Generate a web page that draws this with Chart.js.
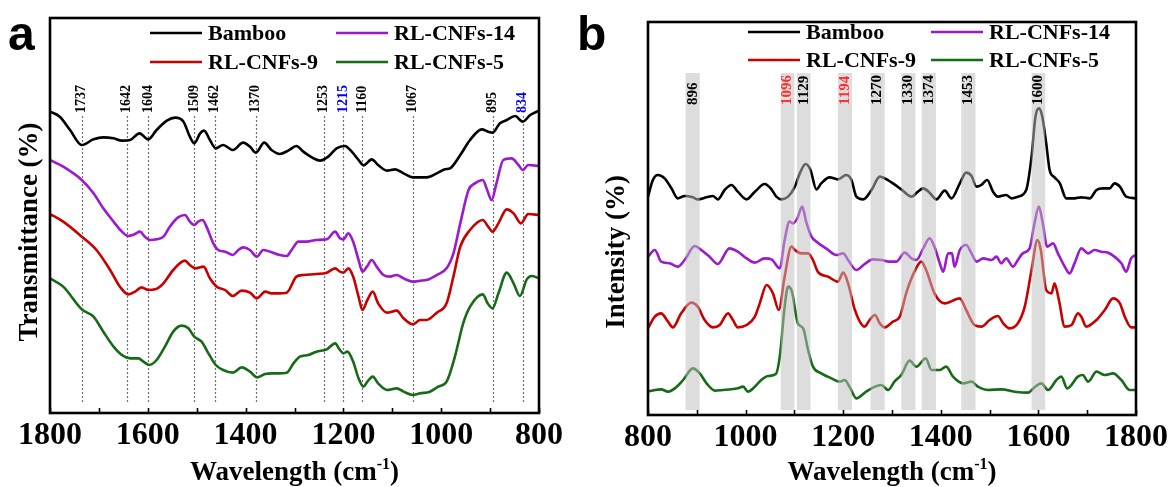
<!DOCTYPE html>
<html lang="en">
<head>
<meta charset="UTF-8">
<title>FTIR / Raman spectra</title>
<script src="https://cdn.jsdelivr.net/npm/chart.js"></script>
<style>
  body { margin: 0; background: #fff; }
  .wrap { position: relative; width: 1174px; height: 487px; }
  #chartA { position: absolute; left: 0; top: 0; }
  #chartB { position: absolute; left: 570px; top: 0; }
</style>
</head>
<body>
<div class="wrap">
  <canvas id="chartA" width="570" height="487"></canvas>
  <canvas id="chartB" width="604" height="487"></canvas>
</div>
<script>
// ---- series names / colours
const seriesNames = ['Bamboo', 'RL-CNFs-14', 'RL-CNFs-9', 'RL-CNFs-5'];
const seriesColors = ['#000000', '#9b19cf', '#c80000', '#176a17'];

// ---- panel a : FTIR (wavenumber, arbitrary transmittance)
const ftirBambooX = [1800,1780,1759,1735,1711,1691,1670,1653,1636,1617,1599,1582,1561,1544,1527,1514,1505,1493,1485,1473,1461,1446,1426,1405,1391,1379,1362,1347,1330,1313,1296,1282,1261,1248,1231,1214,1197,1183,1169,1159,1142,1129,1111,1094,1077,1058,1030,1009,992,982,961,941,917,904,895,880,866,849,833,818,800];
const ftirBambooY = [93.5,92.0,88.0,83.5,85.2,85.8,85.5,84.8,85.0,87.0,85.2,88.0,90.8,91.7,90.5,86.0,84.0,87.0,87.8,85.0,82.5,83.5,82.0,84.2,83.0,81.2,84.2,82.0,80.8,81.8,83.2,81.5,79.5,78.8,80.0,82.5,83.2,81.5,79.0,77.4,79.2,77.5,75.8,76.2,75.0,73.8,73.8,75.0,76.2,76.5,80.5,85.0,88.2,87.5,87.2,90.0,91.0,92.2,90.5,92.5,93.8];
const ftirCnf14X = [1800,1773,1735,1711,1691,1670,1653,1640,1626,1616,1606,1595,1582,1568,1555,1538,1524,1514,1505,1497,1488,1480,1466,1456,1442,1426,1415,1405,1391,1377,1364,1350,1330,1316,1306,1292,1275,1255,1234,1217,1207,1200,1190,1180,1169,1161,1152,1142,1132,1118,1105,1091,1077,1058,1043,1030,1009,989,975,961,944,931,915,906,897,887,873,856,842,833,822,800];
const ftirCnf14Y = [79.0,77.0,73.0,69.0,64.5,60.5,57.5,56.2,56.8,57.5,56.0,55.0,55.2,56.0,59.0,61.8,62.5,60.5,59.5,60.5,61.0,59.0,54.0,52.0,51.5,50.5,52.0,52.8,52.0,50.0,52.0,51.5,50.5,50.2,52.0,54.5,54.5,55.0,55.2,57.5,55.5,55.2,57.0,54.5,49.0,45.5,47.0,49.0,47.0,44.5,44.0,44.5,43.5,42.5,42.8,43.0,44.5,46.5,51.0,60.0,70.0,72.0,73.0,70.0,67.0,72.0,79.0,79.5,77.5,76.0,77.5,77.2];
const ftirCnf9X = [1800,1773,1735,1705,1677,1657,1640,1626,1613,1599,1585,1568,1548,1524,1514,1503,1486,1473,1459,1442,1426,1408,1391,1377,1360,1347,1333,1316,1296,1282,1255,1234,1217,1207,1200,1190,1180,1169,1161,1151,1140,1129,1111,1091,1077,1058,1043,1030,1009,989,975,961,941,915,904,895,883,866,852,837,822,800];
const ftirCnf9Y = [62.8,60.5,56.0,52.0,46.0,41.0,38.7,39.5,40.8,40.0,40.2,42.0,46.0,48.8,47.5,46.5,47.0,43.5,41.0,40.0,38.2,39.8,39.2,37.5,39.5,39.0,39.0,39.2,44.0,44.5,44.8,45.2,46.5,45.5,45.2,46.5,44.0,38.0,34.0,37.0,39.5,36.0,33.2,33.8,31.5,29.7,31.0,31.0,33.2,36.0,44.0,53.0,58.0,61.0,59.0,57.5,60.0,64.2,63.0,60.0,62.8,62.5];
const ftirCnf5X = [1800,1773,1735,1711,1691,1670,1653,1636,1619,1609,1597,1582,1565,1548,1531,1517,1505,1490,1476,1461,1446,1426,1408,1391,1377,1360,1347,1333,1316,1302,1289,1272,1255,1234,1217,1207,1200,1192,1180,1169,1159,1151,1140,1129,1111,1091,1077,1058,1043,1023,1006,989,972,955,941,915,905,895,883,866,852,839,825,815,800];
const ftirCnf5Y = [43.5,41.0,34.2,32.0,27.5,23.0,20.5,19.5,19.5,18.5,17.5,19.0,23.0,27.5,29.3,28.5,26.0,24.5,21.0,17.5,16.0,15.2,16.8,15.5,13.8,14.8,15.0,15.0,15.2,18.0,20.0,20.5,21.5,22.2,24.0,22.0,21.0,21.5,18.5,13.5,11.0,12.5,14.0,12.0,10.0,10.5,9.5,8.5,9.0,9.5,11.0,12.5,20.0,30.0,35.0,38.7,36.0,34.5,39.0,45.2,42.0,38.2,43.2,44.2,43.5];
// dotted marker lines (where they sit on the axis) and their labels
const ftirMarkPos = [1735,1643,1599,1505,1463,1379,1240,1200,1161,1058,895,833];
const ftirMarkText = ['1737','1642','1604','1509','1462','1370','1253','1215','1160','1067','895','834'];
const ftirMarkColor = ['#000','#000','#000','#000','#000','#000','#000','#0000ee','#000','#000','#000','#0000ee'];

// ---- panel b : Raman (wavenumber, arbitrary intensity)
const ramBambooX = [800,810,820,834,848,861,875,892,902,920,933,943,957,971,984,1002,1019,1039,1053,1063,1073,1087,1101,1111,1123,1133,1145,1155,1172,1189,1206,1217,1227,1241,1258,1275,1285,1302,1319,1340,1353,1364,1377,1391,1408,1422,1439,1452,1463,1473,1483,1495,1507,1517,1534,1545,1558,1575,1586,1594,1601,1608,1616,1623,1633,1644,1657,1674,1688,1705,1719,1732,1746,1756,1767,1780,1800];
const ramBambooY = [68.0,73.0,74.5,73.5,70.5,67.5,68.2,67.8,67.2,67.8,68.2,67.2,70.0,71.5,69.5,67.2,69.5,71.8,70.2,68.0,67.2,68.0,71.0,75.0,77.8,76.0,70.2,72.0,73.8,73.2,74.5,73.0,68.0,67.2,70.0,74.0,73.5,72.0,70.2,68.0,69.5,70.5,69.2,67.2,69.8,67.5,72.0,75.2,74.2,71.0,71.5,73.0,69.5,68.0,68.5,67.5,68.0,70.0,80.0,92.0,94.5,92.0,84.0,76.0,73.8,72.0,67.5,67.5,67.8,67.5,70.0,70.5,70.5,72.0,71.0,68.0,67.5];
const ramCnf14X = [800,814,827,844,861,875,896,909,926,943,967,984,1002,1019,1039,1053,1070,1080,1090,1097,1106,1116,1124,1135,1148,1165,1186,1200,1210,1227,1244,1261,1278,1295,1309,1326,1340,1350,1364,1377,1387,1398,1405,1415,1423,1428,1439,1452,1463,1473,1487,1504,1514,1524,1534,1548,1558,1568,1582,1592,1601,1609,1618,1630,1640,1654,1664,1674,1688,1702,1715,1729,1743,1756,1770,1780,1790,1800];
const ramCnf14Y = [50.0,52.0,48.5,48.0,47.0,49.0,53.2,52.0,50.0,47.8,52.5,51.5,49.5,48.2,49.5,49.2,46.5,55.0,60.5,60.0,61.5,65.0,60.5,56.0,54.2,52.5,50.5,51.0,49.0,46.0,47.8,49.2,49.0,48.5,48.5,51.2,49.5,49.0,52.5,55.5,53.0,48.0,45.5,51.0,51.0,47.0,52.0,53.5,51.0,48.5,49.5,49.0,50.0,48.0,49.5,47.0,49.0,51.0,52.5,60.0,65.0,60.0,53.0,54.0,51.0,47.0,45.0,48.0,52.5,51.0,52.0,51.5,51.2,50.0,48.0,45.5,49.5,50.5];
const ramCnf9X = [800,814,827,841,851,868,889,902,916,933,947,964,974,984,1002,1019,1029,1043,1056,1068,1080,1094,1101,1114,1128,1138,1148,1169,1189,1200,1210,1224,1244,1254,1265,1275,1285,1302,1316,1329,1346,1360,1370,1387,1408,1439,1452,1469,1483,1500,1517,1528,1541,1558,1572,1586,1598,1605,1616,1627,1633,1642,1654,1668,1681,1688,1698,1719,1736,1753,1767,1777,1790,1800];
const ramCnf9Y = [28.5,32.0,33.0,30.5,28.8,33.0,36.2,35.0,31.0,28.8,29.5,33.0,31.0,28.8,29.5,32.0,36.0,41.5,39.0,34.0,44.0,53.0,52.0,51.0,51.0,49.0,45.5,44.0,42.5,45.2,42.0,34.0,29.0,31.0,32.5,30.0,28.8,30.5,32.0,39.0,45.5,48.5,46.0,39.0,36.0,37.5,34.0,29.5,29.0,31.0,32.2,30.0,28.5,30.0,35.0,46.0,55.0,52.0,40.0,39.0,42.0,37.0,29.0,29.5,33.0,32.0,29.0,31.0,34.0,37.5,36.0,32.0,28.8,28.8];
const ramCnf5X = [800,814,827,841,855,872,892,906,920,937,954,971,984,995,1005,1019,1032,1046,1062,1070,1080,1087,1095,1107,1118,1128,1138,1155,1176,1193,1203,1213,1227,1247,1265,1278,1292,1305,1319,1336,1350,1369,1381,1398,1411,1425,1446,1463,1476,1497,1524,1551,1579,1592,1606,1620,1637,1647,1659,1681,1691,1702,1719,1736,1753,1770,1787,1800];
const ramCnf5Y = [9.5,10.0,10.2,9.5,10.5,13.0,16.5,15.0,12.0,9.8,10.0,10.2,10.5,11.0,9.5,11.0,13.0,14.2,14.8,20.0,35.0,41.0,39.5,30.0,28.5,22.0,17.0,15.0,13.5,12.5,13.0,11.0,7.5,9.5,11.0,11.5,10.0,12.5,14.5,18.8,17.0,19.5,16.0,16.0,17.0,14.0,12.0,12.5,11.0,10.0,10.2,9.5,9.2,10.8,12.0,10.0,13.0,14.0,10.5,14.0,14.5,12.5,15.5,14.5,15.0,13.0,10.0,10.0];
// shaded bands
const ramBandLo = [877,1072,1105,1189,1256,1319,1361,1442,1586];
const ramBandHi = [906,1100,1133,1218,1285,1348,1390,1471,1614];
const ramBandText = ['896','1096','1129','1194','1270','1330','1374','1453','1600'];
const ramBandColor = ['#000','#ff3030','#000','#ff3030','#000','#000','#000','#000','#000'];

const tickLabels = [800, 1000, 1200, 1400, 1600, 1800];

const serif = '"Liberation Serif", "Times New Roman", serif';

function pairs(xs, ys) {
    return xs.map((x, i) => ({ x: x, y: ys[i] }));
}

function makeDatasets(list) {
    return list.map((s, i) => ({
        label: seriesNames[i],
        data: pairs(s[0], s[1]),
        borderColor: seriesColors[i],
        borderWidth: 2.6,
        pointRadius: 0,
        cubicInterpolationMode: 'monotone',
        fill: false
    }));
}

// frame + inward ticks every 100
function drawFrame(ctx, a, x) {
    ctx.save();
    ctx.strokeStyle = '#000';
    ctx.lineWidth = 1.6;
    for (let v = 800; v <= 1800; v += 100) {
        const px = Math.round(x.getPixelForValue(v)) + 0.5;
        ctx.beginPath();
        ctx.moveTo(px, a.bottom);
        ctx.lineTo(px, a.bottom - 5);
        ctx.stroke();
    }
    ctx.lineWidth = 2.6;
    ctx.strokeRect(a.left, a.top, a.right - a.left, a.bottom - a.top);
    ctx.restore();
}

function drawLegend(ctx, cols, rows) {
    ctx.save();
    ctx.font = 'bold 22px ' + serif;
    ctx.textBaseline = 'middle';
    ctx.textAlign = 'left';
    const order = [[0, 1], [2, 3]];
    order.forEach((row, r) => {
        row.forEach((si, c) => {
            const lx = cols[c], ly = rows[r];
            ctx.strokeStyle = seriesColors[si];
            ctx.lineWidth = 2.6;
            ctx.beginPath();
            ctx.moveTo(lx, ly);
            ctx.lineTo(lx + 52, ly);
            ctx.stroke();
            ctx.fillStyle = '#000';
            ctx.fillText(seriesNames[si], lx + 58, ly + 1);
        });
    });
    ctx.restore();
}

function drawXTitle(ctx, cx, baseY) {
    ctx.save();
    ctx.fillStyle = '#000';
    ctx.textBaseline = 'alphabetic';
    ctx.textAlign = 'left';
    const big = 'bold 27px ' + serif, small = 'bold 16px ' + serif;
    const t1 = 'Wavelength (cm', t2 = '-1', t3 = ')';
    ctx.font = big; const w1 = ctx.measureText(t1).width, w3 = ctx.measureText(t3).width;
    ctx.font = small; const w2 = ctx.measureText(t2).width;
    let sx = cx - (w1 + w2 + w3) / 2;
    ctx.font = big; ctx.fillText(t1, sx, baseY);
    ctx.font = small; ctx.fillText(t2, sx + w1, baseY - 11);
    ctx.font = big; ctx.fillText(t3, sx + w1 + w2, baseY);
    ctx.restore();
}

function drawYTitle(ctx, text, cx, cy) {
    ctx.save();
    ctx.translate(cx, cy);
    ctx.rotate(-Math.PI / 2);
    ctx.font = 'bold 27px ' + serif;
    ctx.fillStyle = '#000';
    ctx.textAlign = 'center';
    ctx.textBaseline = 'middle';
    ctx.fillText(text, 0, 0);
    ctx.restore();
}

function drawLetter(ctx, ch, lx) {
    ctx.save();
    ctx.font = 'bold 48px "Liberation Sans", Arial, sans-serif';
    ctx.fillStyle = '#000';
    ctx.textBaseline = 'alphabetic';
    ctx.fillText(ch, lx, 50);
    ctx.restore();
}

function rotatedLabel(ctx, text, color, px, bottomY, size) {
    ctx.save();
    ctx.translate(px, bottomY);
    ctx.rotate(-Math.PI / 2);
    ctx.font = 'bold ' + size + 'px ' + serif;
    ctx.fillStyle = color;
    ctx.textAlign = 'left';
    ctx.textBaseline = 'middle';
    ctx.fillText(text, 0, 0);
    ctx.restore();
}

const decorA = {
    id: 'decorA',
    beforeDatasetsDraw(chart) {
        const { ctx, chartArea: a, scales: { x } } = chart;
        ctx.save();
        ctx.strokeStyle = '#707070';
        ctx.lineWidth = 1.2;
        ctx.setLineDash([2, 2]);
        ftirMarkPos.forEach(w => {
            const px = Math.round(x.getPixelForValue(w)) + 0.5;
            ctx.beginPath();
            ctx.moveTo(px, a.top + 98);
            ctx.lineTo(px, a.bottom - 10);
            ctx.stroke();
        });
        ctx.restore();
    },
    afterDraw(chart) {
        const { ctx, chartArea: a, scales: { x } } = chart;
        drawFrame(ctx, a, x);
        ftirMarkPos.forEach((w, i) => {
            rotatedLabel(ctx, ftirMarkText[i], ftirMarkColor[i], x.getPixelForValue(w), a.top + 95, 14);
        });
        drawLegend(ctx, [150, 336], [33, 62]);
        drawXTitle(ctx, (a.left + a.right) / 2, 480);
        drawYTitle(ctx, 'Transmittance (%)', 30, 232);
        drawLetter(ctx, 'a', 8);
    }
};

const decorB = {
    id: 'decorB',
    afterDatasetsDraw(chart) {
        const { ctx, chartArea: a, scales: { x } } = chart;
        ctx.save();
        ctx.fillStyle = 'rgba(190,190,190,0.52)';
        ramBandLo.forEach((lo, i) => {
            const p1 = x.getPixelForValue(lo), p2 = x.getPixelForValue(ramBandHi[i]);
            ctx.fillRect(p1, a.top + 51, p2 - p1, a.bottom - a.top - 56);
        });
        ctx.restore();
    },
    afterDraw(chart) {
        const { ctx, chartArea: a, scales: { x } } = chart;
        drawFrame(ctx, a, x);
        ramBandLo.forEach((lo, i) => {
            const c = x.getPixelForValue((lo + ramBandHi[i]) / 2);
            rotatedLabel(ctx, ramBandText[i], ramBandColor[i], c, a.top + 83, 15);
        });
        drawLegend(ctx, [178, 361], [32, 60]);
        drawXTitle(ctx, (a.left + a.right) / 2, 480);
        drawYTitle(ctx, 'Intensity (%)', 47, 252);
        drawLetter(ctx, 'b', 7);
    }
};

function makeChart(id, datasets, reverse, yMin, yMax, pad, axisH, plugin) {
    return new Chart(document.getElementById(id), {
        type: 'line',
        data: { datasets: datasets },
        options: {
            responsive: false,
            animation: false,
            devicePixelRatio: 1,
            layout: { padding: pad },
            plugins: { legend: { display: false }, tooltip: { enabled: false } },
            scales: {
                x: {
                    type: 'linear',
                    min: 800, max: 1800,
                    reverse: reverse,
                    afterBuildTicks: s => { s.ticks = tickLabels.map(v => ({ value: v })); },
                    afterFit: s => { s.height = axisH; },
                    grid: { display: false, drawTicks: false },
                    border: { display: false },
                    ticks: {
                        autoSkip: false,
                        maxRotation: 0,
                        padding: 4,
                        color: '#000',
                        callback: v => String(v),
                        font: { family: serif, size: 32, weight: 'bold' }
                    }
                },
                y: { display: false, min: yMin, max: yMax }
            }
        },
        plugins: [plugin]
    });
}

makeChart('chartA', makeDatasets([
    [ftirBambooX, ftirBambooY], [ftirCnf14X, ftirCnf14Y],
    [ftirCnf9X, ftirCnf9Y], [ftirCnf5X, ftirCnf5Y]
]), true, 3.1, 121.6, { left: 50, right: 31, top: 18, bottom: 0 }, 74, decorA);

makeChart('chartB', makeDatasets([
    [ramBambooX, ramBambooY], [ramCnf14X, ramCnf14Y],
    [ramCnf9X, ramCnf9Y], [ramCnf5X, ramCnf5Y]
]), false, 2.5, 120.4, { left: 78, right: 38, top: 22, bottom: 0 }, 72, decorB);
</script>
</body>
</html>
